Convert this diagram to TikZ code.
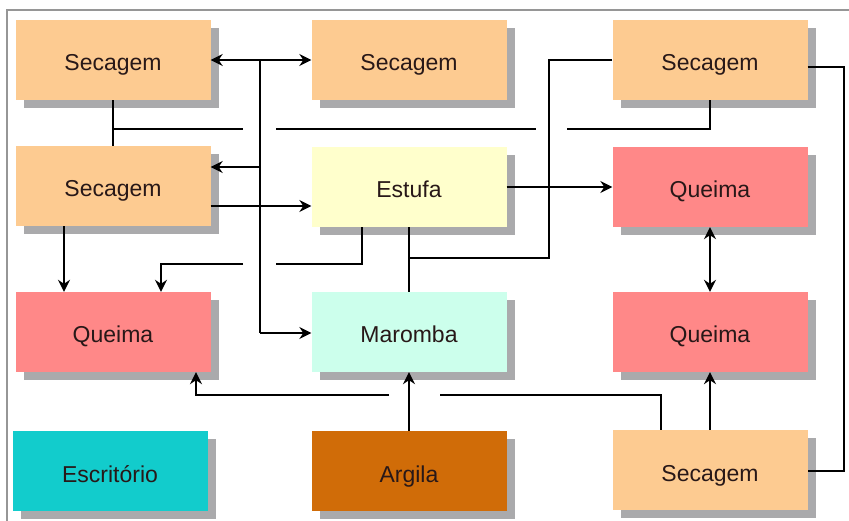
\documentclass[tikz,border=0pt]{standalone}
\usepackage{fontspec}
\setmainfont{Liberation Sans}
\usetikzlibrary{arrows.meta,shadows}
\definecolor{secagem}{RGB}{253,203,145}
\definecolor{estufa}{RGB}{255,255,204}
\definecolor{queima}{RGB}{255,136,136}
\definecolor{maromba}{RGB}{204,255,236}
\definecolor{escritorio}{RGB}{18,204,204}
\definecolor{argila}{RGB}{208,108,8}
\definecolor{shade}{RGB}{170,170,172}
\definecolor{frame}{RGB}{150,150,150}
\definecolor{ink}{RGB}{40,24,24}
\tikzset{
  room/.style={rectangle, inner sep=0pt, minimum width=195pt, minimum height=80pt,
    text height=22pt, text depth=0pt,
    font=\fontsize{23}{25}\selectfont, text=ink,
    general shadow={fill=shade, shadow xshift=8pt, shadow yshift=-8pt}},
  link/.style={line width=1.6pt, black},
  flow/.style={link, -{Stealth[length=12pt,width=12pt,inset=4pt]}},
  twoway/.style={link, {Stealth[length=12pt,width=12pt,inset=4pt]}-{Stealth[length=12pt,width=12pt,inset=4pt]}}
}
\begin{document}
\begin{tikzpicture}[x=1pt,y=-1pt]
\useasboundingbox (0,0) rectangle (849,521);
% outer frame
\draw[frame, line width=1.2pt] (7,521) -- (7,10) -- (849,10);

% rooms
\node[room, fill=secagem] (secA) at (113,60) {Secagem};
\node[room, fill=secagem] (secB) at (409,60) {Secagem};
\node[room, fill=secagem] (secC) at (710,60) {Secagem};
\node[room, fill=secagem] (secD) at (113,186) {Secagem};
\node[room, fill=estufa] (estufa) at (409,187) {Estufa};
\node[room, fill=queima] (qE) at (710,187) {Queima};
\node[room, fill=queima] (qF) at (113,332) {Queima};
\node[room, fill=maromba] (maromba) at (409,332) {Maromba};
\node[room, fill=queima] (qG) at (710,332) {Queima};
\node[room, fill=escritorio] (escr) at (110,471) {Escritório};
\node[room, fill=argila] (argila) at (409,471) {Argila};
\node[room, fill=secagem] (secH) at (710,470) {Secagem};

% distribution bus
\coordinate (busTop) at (260,60);
\coordinate (busD) at (260,167);
\coordinate (busBot) at (260,333);
\draw[link] (busTop) -- (busBot);
\draw[flow] (busTop) -- (secA.east |- busTop);
\draw[flow] (busTop) -- (secB.west |- busTop);
\draw[flow] (busD) -- (secD.east |- busD);
\draw[flow] (busBot) -- (maromba.west |- busBot);

% line joining the upper dryers (with hops)
\coordinate (h1) at (113,129);
\draw[link] (secA.south) -- (secD.north);
\draw[link] (h1) -- (243,129);
\draw[link] (276,129) -- (536,129);
\draw[link] (567,129) -- (secC.south |- h1) -- (secC.south);

% dryer -> greenhouse -> kiln
\draw[flow] ([yshift=-20pt]secD.east) -- (estufa.west |- 0,206);
\draw[flow] (estufa.east) -- (qE.west);

% greenhouse / extruder / upper right dryer
\coordinate (j1) at (409,258);
\draw[link] (estufa.south) -- (maromba.north);
\draw[link] (secC.west) -- (549,60) -- (549,258) -- (j1);

% greenhouse -> left kiln (with hop)
\draw[link] (estufa.south -| 362,0) -- (362,264) -- (276,264);
\draw[flow] (243,264) -- (161,264) -- (qF.north -| 161,0);
\draw[flow] (secD.south -| 64,0) -- (qF.north -| 64,0);

% kilns on the right
\draw[twoway] (qE.south) -- (qG.north);
\draw[flow] (secH.north) -- (qG.south);

% lower dryer -> left kiln (with hop)
\draw[link] (secH.north -| 661,0) -- (661,395) -- (440,395);
\draw[flow] (389,395) -- (196,395) -- (qF.south -| 196,0);

% clay -> extruder
\draw[flow] (argila.north) -- (maromba.south);

% right-hand return line
\draw[link] ([yshift=-7pt]secC.east) -- (844,67) -- (844,471) -- (secH.east |- 0,471);
\end{tikzpicture}
\end{document}
